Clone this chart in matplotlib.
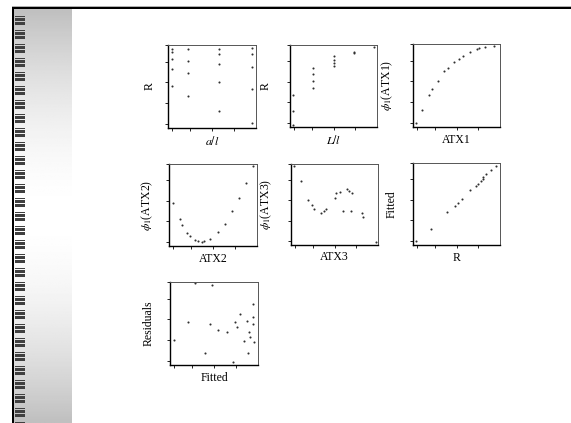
import numpy as np
import matplotlib
matplotlib.use("Agg")
import matplotlib.pyplot as plt
from matplotlib.patches import Rectangle

plt.rcParams['font.family'] = ['Liberation Serif', 'DejaVu Serif']
plt.rcParams['mathtext.fontset'] = 'stix'

# --- données (échelle normalisée 0-1 de chaque axe) ---
al_x = [0.05, 0.05, 0.05, 0.05, 0.05,
        0.23, 0.23, 0.23, 0.23,
        0.58, 0.58, 0.58, 0.58, 0.58,
        0.95, 0.95, 0.95, 0.95, 0.95]
al_r = [0.95, 0.92, 0.83, 0.71, 0.51,
        0.95, 0.81, 0.66, 0.39,
        0.95, 0.89, 0.77, 0.56, 0.20,
        0.96, 0.89, 0.74, 0.47, 0.06]

ll_x = [0.04, 0.04, 0.04, 0.26, 0.26, 0.27, 0.27, 0.50, 0.50, 0.50, 0.50, 0.73, 0.73, 0.96]
ll_r = [0.03, 0.20, 0.39, 0.72, 0.65, 0.56, 0.47, 0.87, 0.82, 0.78, 0.74, 0.92, 0.90, 0.97]

atx1 = [0.03, 0.10, 0.18, 0.22, 0.29, 0.36, 0.40, 0.47, 0.53, 0.58, 0.65, 0.73, 0.76, 0.83, 0.93]
phi1 = [0.05, 0.21, 0.38, 0.46, 0.56, 0.67, 0.71, 0.78, 0.82, 0.86, 0.90, 0.94, 0.95, 0.96, 0.98]

atx2 = [0.04, 0.12, 0.15, 0.21, 0.24, 0.29, 0.33, 0.37, 0.40, 0.47, 0.56, 0.64, 0.72, 0.79, 0.88, 0.96]
phi2 = [0.52, 0.33, 0.25, 0.16, 0.12, 0.07, 0.06, 0.05, 0.06, 0.09, 0.17, 0.27, 0.43, 0.58, 0.77, 0.97]

atx3 = [0.03, 0.11, 0.19, 0.24, 0.26, 0.35, 0.38, 0.40, 0.50, 0.52, 0.56, 0.64, 0.67, 0.70,
        0.60, 0.69, 0.82, 0.83, 0.98]
phi3 = [0.97, 0.79, 0.56, 0.49, 0.44, 0.40, 0.42, 0.45, 0.58, 0.64, 0.66, 0.69, 0.67, 0.64,
        0.42, 0.42, 0.40, 0.34, 0.04]

r_obs = [0.03, 0.21, 0.39, 0.48, 0.52, 0.56, 0.66, 0.72, 0.75, 0.78, 0.80, 0.81, 0.84, 0.90, 0.95]
fitted = [0.05, 0.20, 0.40, 0.48, 0.51, 0.56, 0.67, 0.72, 0.74, 0.78, 0.80, 0.83, 0.87, 0.92, 0.96]

fit_x = [0.28, 0.48, 0.05, 0.20, 0.40, 0.46, 0.55, 0.65, 0.72, 0.74, 0.76, 0.80, 0.84, 0.88,
         0.90, 0.89, 0.91, 0.94, 0.94, 0.94, 0.95]
resid = [0.99, 0.96, 0.30, 0.52, 0.15, 0.49, 0.42, 0.40, 0.04, 0.52, 0.46, 0.62, 0.29, 0.53,
         0.40, 0.15, 0.34, 0.73, 0.58, 0.50, 0.28]

W, H = 571, 423
fig = plt.figure(figsize=(W / 100, H / 100), dpi=100)

# --- décor de la diapositive ---
bg = fig.add_axes([0, 0, 1, 1])
bg.set_xlim(0, W)
bg.set_ylim(H, 0)
bg.axis('off')
grad = np.abs(np.linspace(-1, 1, 256)) ** 1.8
grad = 1 - 0.25 * grad
bg.imshow(grad[:, None], cmap='gray', vmin=0, vmax=1, extent=(14, 72, H, 9), aspect='auto')
bg.add_patch(Rectangle((12, 6.5), W, 1, color='#b0b0b0', lw=0))
bg.add_patch(Rectangle((12, 7.5), W, 2, color='black', lw=0))
bg.add_patch(Rectangle((12, 7.5), 2.2, H, color='black', lw=0))
for y0 in np.arange(16, H, 14):
    bg.add_patch(Rectangle((15, y0), 9.5, 0.8, color='#404040', lw=0))
    bg.add_patch(Rectangle((15, y0 + 1.8), 9.5, 3, color='#404040', lw=0))
    bg.add_patch(Rectangle((15, y0 + 6), 9.5, 3, color='#404040', lw=0))

# --- petits graphes : (boîte en pixels, x, y, étiquette x, étiquette y, décalage étiquette y) ---
panels = [
    ((168, 45, 256, 128), al_x, al_r, '$a/l$', 'R', -0.14),
    ((290, 45, 377, 127), ll_x, ll_r, '$L/l$', 'R', -0.21),
    ((413, 44, 500, 127), atx1, phi1, 'ATX1', r'$\phi_1$(ATX1)', -0.21),
    ((169, 164, 257, 246), atx2, phi2, 'ATX2', r'$\phi_1$(ATX2)', -0.16),
    ((291, 164, 378, 245), atx3, phi3, 'ATX3', r'$\phi_1$(ATX3)', -0.2),
    ((413, 163, 500, 245), r_obs, fitted, 'R', 'Fitted', -0.18),
    ((170, 282, 258, 365), fit_x, resid, 'Fitted', 'Residuals', -0.17),
]

for (x0, y0, x1, y1), xs, ys, xl, yl, ypos in panels:
    ax = fig.add_axes([x0 / W, 1 - y1 / H, (x1 - x0) / W, (y1 - y0) / H])
    ax.plot(xs, ys, 'o', color='#303030', ms=1.5, mew=0)
    ax.set_xlim(0, 1)
    ax.set_ylim(0, 1)
    ax.set_xticks([0.05, 0.25, 0.5, 0.75])
    ax.set_yticks([0.05, 0.3, 0.55, 0.8, 1.0])
    ax.tick_params(length=2, width=0.6, labelleft=False, labelbottom=False)
    for s in ['left', 'bottom']:
        ax.spines[s].set_linewidth(1.0)
    for s in ['top', 'right']:
        ax.spines[s].set_linewidth(0.7)
        ax.spines[s].set_color('#555555')
    ax.set_xlabel(xl, fontsize=8.5)
    ax.set_ylabel(yl, fontsize=8.5)
    ax.xaxis.set_label_coords(0.5, -0.08)
    ax.yaxis.set_label_coords(ypos, 0.5)

fig.savefig('out.png', dpi=100)
